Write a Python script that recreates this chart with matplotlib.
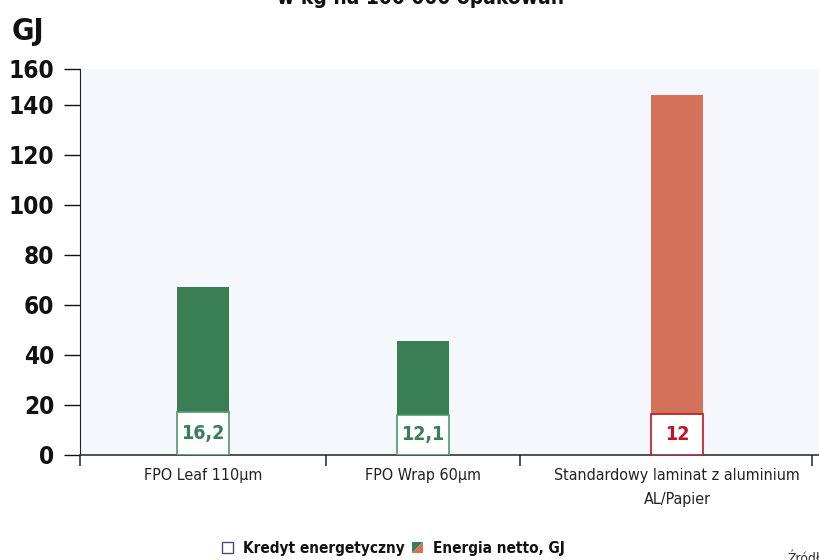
import matplotlib
matplotlib.use("Agg")
import matplotlib.pyplot as plt
from matplotlib.patches import Rectangle, Polygon

plt.rcParams['font.family'] = ['DejaVu Sans']
plt.rcParams['font.stretch'] = 'condensed'

# data
categories = ['FPO Leaf 110µm', 'FPO Wrap 60µm', 'Standardowy laminat z aluminium\nAL/Papier']
net_energy = [66.9, 45.5, 143.8]        # top of the coloured bars (GJ)
credit_box = [17.1, 15.8, 16.1]         # height of the white "credit" boxes
credit_labels = ['16,2', '12,1', '12']
bar_colors = ['#3a7f54', '#3a7f54', '#d5735a']
label_colors = ['#3a7f54', '#3a7f54', '#c0141e']
y_ticks = [0, 20, 40, 60, 80, 100, 120, 140, 154.2]
y_tick_labels = ['0', '20', '40', '60', '80', '100', '120', '140', '160']

# layout (pixel-like units along x)
centers = [123, 343, 597]
bounds = [0, 246, 440, 732]
bar_w = 52

fig = plt.figure(figsize=(8.2, 5.6), dpi=100)
ax = fig.add_axes([80 / 820, 105.5 / 560, 740 / 820, 385.5 / 560])
ax.set_facecolor('#f4f8fc')

for i in range(len(categories)):
    ax.bar(centers[i], net_energy[i], width=bar_w, color=bar_colors[i], zorder=2)
    ax.bar(centers[i], credit_box[i], width=bar_w, color='white',
           edgecolor=label_colors[i] if i == 2 else '#4f9a68', linewidth=1.2, zorder=3)
    ax.text(centers[i], credit_box[i] / 2, credit_labels[i], ha='center', va='center',
            color=label_colors[i], fontsize=14, fontweight='bold', zorder=4)

ax.set_xlim(0, 740)
ax.set_ylim(0, 154.2)

ax.set_yticks(y_ticks)
ax.set_yticklabels(y_tick_labels, fontsize=17.5, fontweight='bold')
ax.tick_params(axis='y', direction='out', length=11.5, width=1.0, pad=7, colors='#111111')

ax.set_xticks(bounds)
ax.set_xticklabels([])
ax.set_xticks(centers, minor=True)
ax.set_xticklabels(categories, minor=True, fontsize=11.5, color='#222222', linespacing=1.7)
ax.tick_params(axis='x', which='major', direction='out', length=8, width=1.2, color='#333333')
ax.tick_params(axis='x', which='minor', length=0, pad=10)

for side in ['top', 'right']:
    ax.spines[side].set_visible(False)
ax.spines['left'].set_color('#222222')
ax.spines['bottom'].set_color('#333333')
ax.spines['bottom'].set_linewidth(1.2)

# unit label and clipped title
fig.text(12 / 820, 1 - 40 / 560, 'GJ', fontsize=22, fontweight='bold', color='#111111')
fig.text(421 / 820, 1 - 4 / 560, 'w kg na 100 000 opakowań', ha='center', va='baseline',
         fontsize=15, fontweight='bold', color='#111111')

# legend drawn by hand
W, H = 820, 560
sq = 11
x1, y1 = 222, 542
fig.patches.append(Rectangle((x1 / W, 1 - (y1 + sq) / H), sq / W, sq / H,
                             transform=fig.transFigure, facecolor='white',
                             edgecolor='#4b4b8c', linewidth=1.0))
fig.text(243 / W, 1 - 548 / H, 'Kredyt energetyczny', va='center', fontsize=11,
         fontweight='bold', color='#111111')
x2 = 412
p0 = (x2 / W, 1 - (y1 + sq) / H)
p1 = ((x2 + sq) / W, 1 - (y1 + sq) / H)
p2 = ((x2 + sq) / W, 1 - y1 / H)
p3 = (x2 / W, 1 - y1 / H)
fig.patches.append(Polygon([p0, p3, p2], closed=True, transform=fig.transFigure,
                           facecolor='#3a7f54', edgecolor='none'))
fig.patches.append(Polygon([p0, p1, p2], closed=True, transform=fig.transFigure,
                           facecolor='#d5735a', edgecolor='none'))
fig.text(433 / W, 1 - 548 / H, 'Energia netto, GJ', va='center', fontsize=11,
         fontweight='bold', color='#111111')

fig.text(788 / W, 1 - 552 / H, 'Źródło', va='top', fontsize=10, color='#333333')

fig.savefig('out.png', dpi=100)
